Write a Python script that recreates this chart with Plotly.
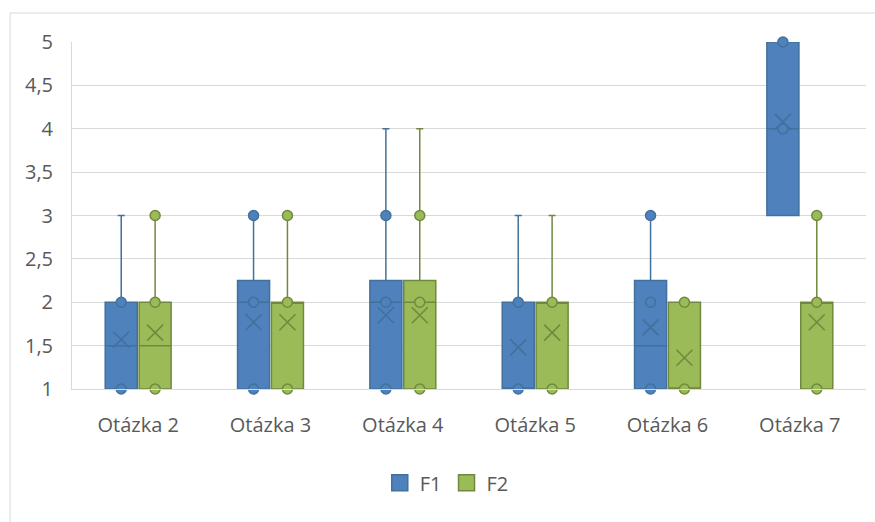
import plotly.graph_objects as go

# Question categories and series
categories = ["Otázka 2", "Otázka 3", "Otázka 4", "Otázka 5", "Otázka 6", "Otázka 7"]
series_names = ["F1", "F2"]

# Five-number summaries per question
f1_lower = [1, 1, 1, 1, 1, 3]
f1_q1 = [1, 1, 1, 1, 1, 3]
f1_median = [1.5, 2, 2, 1, 1.5, 4]
f1_q3 = [2, 2.25, 2.25, 2, 2.25, 5]
f1_upper = [3, 3, 4, 3, 3, 5]
f1_mean = [1.57, 1.77, 1.85, 1.48, 1.71, 4.08]
f1_points = [[2, 1], [3, 2, 1], [3, 2, 1], [2, 1], [3, 2, 1], [5, 4]]

f2_lower = [1, 1, 1, 1, 1, 1]
f2_q1 = [1, 1, 1, 1, 1, 1]
f2_median = [1.5, 2, 2, 2, 1, 2]
f2_q3 = [2, 2, 2.25, 2, 2, 2]
f2_upper = [3, 3, 4, 3, 2, 3]
f2_mean = [1.65, 1.77, 1.85, 1.65, 1.36, 1.77]
f2_points = [[3, 2, 1], [3, 2, 1], [3, 2, 1], [2, 1], [2, 1], [3, 2, 1]]

y_ticks = [1, 1.5, 2, 2.5, 3, 3.5, 4, 4.5, 5]
y_tick_text = ["1", "1,5", "2", "2,5", "3", "3,5", "4", "4,5", "5"]

fills = ["#4F81BD", "#9BBB59"]
edges = ["#41719C", "#71893F"]
offsets = [-0.128, 0.128]
box_width = 0.242

series = [
    (f1_lower, f1_q1, f1_median, f1_q3, f1_upper, f1_mean, f1_points),
    (f2_lower, f2_q1, f2_median, f2_q3, f2_upper, f2_mean, f2_points),
]

fig = go.Figure()

for s, (lo, q1, med, q3, up, mean, pts) in enumerate(series):
    xs = [i + offsets[s] for i in range(len(categories))]
    fig.add_trace(go.Box(
        x=xs, q1=q1, median=med, q3=q3, lowerfence=lo, upperfence=up,
        width=box_width, whiskerwidth=0.22,
        fillcolor=fills[s], line=dict(color=edges[s], width=1.5),
        showlegend=False, hoverinfo="skip",
    ))

for s, (lo, q1, med, q3, up, mean, pts) in enumerate(series):
    px, py = [], []
    for i, plist in enumerate(pts):
        for v in plist:
            px.append(i + offsets[s])
            py.append(v)
    fig.add_trace(go.Scatter(
        x=px, y=py, mode="markers", cliponaxis=False, showlegend=False,
        marker=dict(symbol="circle", size=10, color=fills[s],
                    line=dict(color=edges[s], width=1.5)),
        hoverinfo="skip",
    ))
    fig.add_trace(go.Scatter(
        x=[i + offsets[s] for i in range(len(categories))], y=mean,
        mode="markers", cliponaxis=False, showlegend=False,
        marker=dict(symbol="x-thin-open", size=16, color=edges[s],
                    line=dict(color=edges[s], width=1.6)),
        hoverinfo="skip",
    ))

# Legend entries
for s, name in enumerate(series_names):
    fig.add_trace(go.Scatter(
        x=[None], y=[None], mode="markers", name=name,
        marker=dict(symbol="square", size=20, color=fills[s],
                    line=dict(color=edges[s], width=1.5)),
    ))

grid = "#D9D9D9"
fig.update_layout(
    width=875, height=522,
    margin=dict(l=72, r=9, t=42, b=133),
    paper_bgcolor="white", plot_bgcolor="white",
    font=dict(family="'Open Sans', sans-serif", size=20, color="#595959"),
    boxmode="overlay",
    showlegend=True,
    legend=dict(orientation="h", x=0.472, xanchor="center", y=-0.27, yanchor="middle",
                font=dict(size=20, color="#595959"), itemwidth=30,
                tracegroupgap=0),
    xaxis=dict(range=[-0.5, 5.5], tickvals=list(range(len(categories))),
               ticktext=categories, showgrid=False, zeroline=False,
               showline=True, linecolor=grid, linewidth=1, ticks="",
               ticklabelstandoff=18),
    yaxis=dict(range=[1, 5], tickvals=y_ticks, ticktext=y_tick_text,
               showgrid=True, gridcolor=grid, gridwidth=1, zeroline=False,
               showline=True, linecolor=grid, linewidth=1, ticks="",
               ticklabelstandoff=14),
    shapes=[
        dict(type="line", xref="paper", yref="paper", x0=-0.078, x1=-0.078,
             y0=-0.5, y1=1.0836, line=dict(color=grid, width=1)),
        dict(type="line", xref="paper", yref="paper", x0=-0.078, x1=1.02,
             y0=1.0836, y1=1.0836, line=dict(color=grid, width=1)),
    ],
)

fig.write_html("out.html")
